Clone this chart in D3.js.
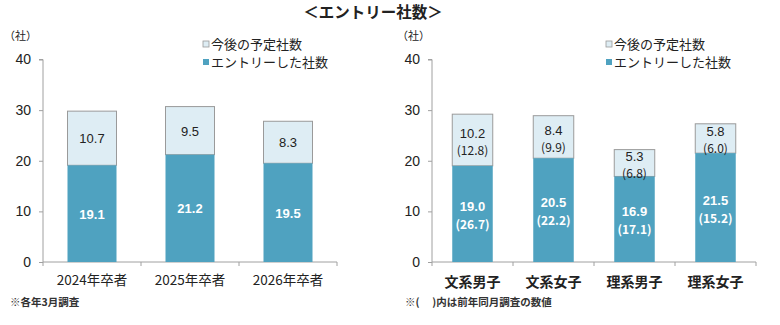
<!DOCTYPE html>
<html><head><meta charset="utf-8">
<script src="https://cdn.jsdelivr.net/npm/d3@7"></script>
<style>
body{margin:0;background:#fff;}
text{font-family:"Liberation Sans","Noto Sans CJK JP",sans-serif;}
.jp{font-family:"Noto Sans CJK JP",sans-serif;}
</style></head>
<body><svg id="c" width="780" height="325"></svg>
<script>
const yTicks=[0,10,20,30,40];
const leftCats=["2024年卒者","2025年卒者","2026年卒者"];
const leftEntry=[19.1,21.2,19.5];
const leftPlan=[10.7,9.5,8.3];
const rightCats=["文系男子","文系女子","理系男子","理系女子"];
const rightEntry=[19.0,20.5,16.9,21.5];
const rightPlan=[10.2,8.4,5.3,5.8];
const rightEntryPrev=[26.7,22.2,17.1,15.2];
const rightPlanPrev=[12.8,9.9,6.8,6.0];
const legendLabels=["今後の予定社数","エントリーした社数"];

const C_ENTRY="#4fa2c0", C_PLAN="#deedf4", C_BORDER="#9a9a9a", AX="#a0a0a0";
const svg=d3.select("#c");
svg.append("text").attr("class","jp").attr("x",373).attr("y",18).attr("text-anchor","middle")
  .attr("font-size",15.5).attr("font-weight","bold").attr("fill","#222").text("＜エントリー社数＞");

function panel(o){
  const y=d3.scaleLinear().domain([0,40]).range([262,59.5]);
  const x=d3.scaleBand().domain(o.cats).range([o.x0,o.x1]).paddingInner(0.5).paddingOuter(0.25);
  const g=svg.append("g");
  const ya=g.append("g").attr("transform",`translate(${o.x0},0)`).call(d3.axisLeft(y).tickValues(yTicks).tickSize(4).tickPadding(8));
  ya.select(".domain").attr("stroke",AX).attr("d",`M-4,${y(40)}H0V${y(0)}`);
  ya.selectAll(".tick line").attr("stroke",AX);
  ya.selectAll(".tick text").attr("font-size",14).attr("fill","#222").attr("font-family","Liberation Sans, sans-serif");
  g.append("line").attr("x1",o.x0).attr("x2",o.x1).attr("y1",y(0)).attr("y2",y(0)).attr("stroke",AX);
  for(let i=0;i<=o.cats.length;i++){
    const xx=o.x0+i*(o.x1-o.x0)/o.cats.length;
    g.append("line").attr("x1",xx).attr("x2",xx).attr("y1",y(0)).attr("y2",y(0)+4).attr("stroke",AX);
  }
  g.selectAll("text.cat").data(o.cats).join("text").attr("class","cat jp")
    .attr("x",d=>x(d)+x.bandwidth()/2).attr("y",o.catY).attr("text-anchor","middle")
    .attr("font-size",o.catSize).attr("font-weight",o.catWeight).attr("fill","#222").text(d=>d);
  o.cats.forEach((c,i)=>{
    const e=o.entry[i], p=o.plan[i];
    g.append("rect").attr("x",x(c)).attr("width",x.bandwidth()).attr("y",y(e+p)).attr("height",y(e)-y(e+p))
      .attr("fill",C_PLAN).attr("stroke",C_BORDER).attr("stroke-width",1);
    g.append("rect").attr("x",x(c)).attr("width",x.bandwidth()).attr("y",y(e)).attr("height",y(0)-y(e))
      .attr("fill",C_ENTRY);
    const cx=x(c)+x.bandwidth()/2;
    const mE=(y(0)+y(e))/2, mP=(y(e)+y(e+p))/2;
    if(o.entryPrev){
      g.append("text").attr("x",cx).attr("y",mE-3).attr("text-anchor","middle").attr("font-size",13).attr("font-weight","bold").attr("fill","#fff").text(e.toFixed(1));
      g.append("text").attr("class","jp").attr("x",cx).attr("y",mE+15).attr("text-anchor","middle").attr("font-size",12).attr("font-weight","bold").attr("fill","#fff").text("("+o.entryPrev[i].toFixed(1)+")");
      g.append("text").attr("x",cx).attr("y",mP-2).attr("text-anchor","middle").attr("font-size",13).attr("fill","#222").text(p.toFixed(1));
      g.append("text").attr("class","jp").attr("x",cx).attr("y",mP+15).attr("text-anchor","middle").attr("font-size",12).attr("fill","#222").text("("+o.planPrev[i].toFixed(1)+")");
    } else {
      g.append("text").attr("x",cx).attr("y",mE+5).attr("text-anchor","middle").attr("font-size",13).attr("font-weight","bold").attr("fill","#fff").text(e.toFixed(1));
      g.append("text").attr("x",cx).attr("y",mP+5).attr("text-anchor","middle").attr("font-size",13).attr("fill","#222").text(p.toFixed(1));
    }
  });
  g.append("text").attr("class","jp").attr("x",o.unitX).attr("y",40).attr("font-size",11).attr("fill","#222").text("（社）");
  const cols=[C_PLAN,C_ENTRY];
  legendLabels.forEach((l,i)=>{
    g.append("rect").attr("x",o.legX).attr("y",41+i*18).attr("width",6).attr("height",6).attr("fill",cols[i]).attr("stroke",i===0?C_BORDER:"none").attr("stroke-width",0.8);
    g.append("text").attr("class","jp").attr("x",o.legX+8).attr("y",49+i*18).attr("font-size",13).attr("fill","#222").text(l);
  });
  g.append("text").attr("class","jp").attr("x",o.noteX).attr("y",306).attr("font-size",10.5).attr("font-weight","bold").attr("fill","#333").attr("xml:space","preserve").text(o.note);
}
panel({cats:leftCats,entry:leftEntry,plan:leftPlan,x0:43,x1:337,catY:285,catSize:13.5,catWeight:"normal",unitX:4,legX:203,noteX:10,note:"※各年3月調査"});
panel({cats:rightCats,entry:rightEntry,plan:rightPlan,entryPrev:rightEntryPrev,planPrev:rightPlanPrev,x0:432,x1:756,catY:287,catSize:14,catWeight:"bold",unitX:397,legX:606,noteX:405,note:"※(　 )内は前年同月調査の数値"});
</script></body></html>
